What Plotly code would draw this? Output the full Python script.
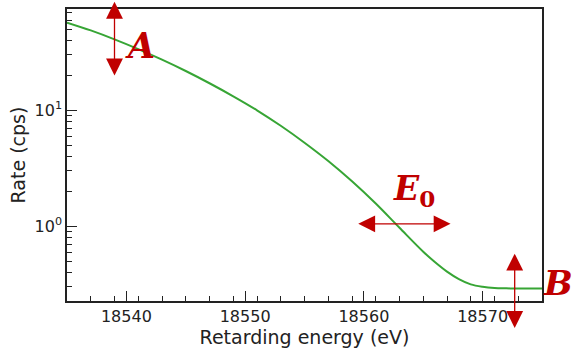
import numpy as np
import plotly.graph_objects as go

# Measured count rate versus retarding energy
energy = [18535, 18537, 18539, 18541, 18543, 18545, 18547, 18549, 18551,
          18553, 18555, 18557, 18559, 18561, 18563, 18565, 18566, 18567,
          18568, 18569, 18570, 18571, 18572, 18573, 18575]
rate = [57.0, 48.8, 40.9, 33.7, 27.3, 21.8, 17.1, 13.2, 10.0,
        7.35, 5.25, 3.65, 2.44, 1.57, 0.97, 0.603, 0.49, 0.407,
        0.351, 0.316, 0.301, 0.294, 0.292, 0.291, 0.291]

x_tick_vals = [18540, 18550, 18560, 18570]
x_tick_text = ["18540", "18550", "18560", "18570"]

# Arrow markers: amplitude A, endpoint E0, background B
arrow_a_x = 18539.0
arrow_a_y = [86.0, 19.4]
arrow_e0_x = [18559.4, 18567.3]
arrow_e0_y = 1.05
arrow_b_x = 18572.7
arrow_b_y = [0.598, 0.133]

label_a = (18541.15, 36.0)
label_e0 = (18564.2, 2.05)
label_b_paper = (1.0674, -0.01)

RED = "#c00000"
GREEN = "#37a535"

fig = go.Figure()
fig.add_trace(go.Scatter(
    x=energy, y=rate, mode="lines", line=dict(color=GREEN, width=2, shape="spline"),
    showlegend=False, hoverinfo="skip"))

lg = np.log10


def double_arrow(x0, y0, x1, y1):
    fig.add_annotation(
        x=x1, y=lg(y1), ax=x0, ay=lg(y0), xref="x", yref="y", axref="x", ayref="y",
        text="", showarrow=True, arrowside="end+start", arrowhead=2, startarrowhead=2,
        arrowsize=2.6, startarrowsize=2.6, arrowwidth=1.3, arrowcolor=RED,
        standoff=0, startstandoff=0)


double_arrow(arrow_a_x, arrow_a_y[1], arrow_a_x, arrow_a_y[0])
double_arrow(arrow_e0_x[0], arrow_e0_y, arrow_e0_x[1], arrow_e0_y)
double_arrow(arrow_b_x, arrow_b_y[0], arrow_b_x, arrow_b_y[1])

label_font = dict(family="DejaVu Serif", color=RED, weight="bold", style="italic")
fig.add_annotation(x=label_a[0], y=lg(label_a[1]), text="A", showarrow=False,
                   font=dict(size=35, **label_font))
fig.add_annotation(x=label_e0[0], y=lg(label_e0[1]),
                   text="E<sub><span style='font-style:normal'>0</span></sub>",
                   showarrow=False, font=dict(size=33, **label_font))
fig.add_annotation(x=label_b_paper[0], y=label_b_paper[1], xref="paper", yref="paper",
                   xanchor="right", borderpad=0,
                   text="B", showarrow=False, font=dict(size=34, **label_font))

minor_y = [v * d for d in (0.1, 1, 10) for v in range(2, 10) if 0.2 <= v * d <= 80]

fig.update_layout(
    width=574, height=352, margin=dict(l=67, r=32, t=7, b=48),
    paper_bgcolor="white", plot_bgcolor="white",
    font=dict(family="DejaVu Sans", size=16, color="#222"),
    xaxis=dict(
        range=[18535, 18575], tickvals=x_tick_vals, ticktext=x_tick_text,
        ticks="inside", ticklen=10, tickwidth=1.2, tickcolor="#222",
        showline=True, linecolor="#222", linewidth=1.5, mirror=True,
        showgrid=False, zeroline=False,
        minor=dict(tickmode="linear", tick0=18535, dtick=2, ticks="inside",
                   ticklen=5, tickwidth=1, tickcolor="#222", showgrid=False),
        title=dict(text="Retarding energy (eV)", standoff=6),
    ),
    yaxis=dict(
        type="log", range=[-0.644, 1.873], tickvals=[1, 10],
        ticktext=["10<sup>0</sup>", "10<sup>1</sup>"],
        ticks="inside", ticklen=10, tickwidth=1.2, tickcolor="#222",
        showline=True, linecolor="#222", linewidth=1.5, mirror=True,
        showgrid=False, zeroline=False,
        minor=dict(tickmode="array", tickvals=minor_y, ticks="inside",
                   ticklen=5, tickwidth=1, tickcolor="#222", showgrid=False),
        title=dict(text="Rate (cps)", standoff=4),
    ),
)

fig.write_html("out.html")
